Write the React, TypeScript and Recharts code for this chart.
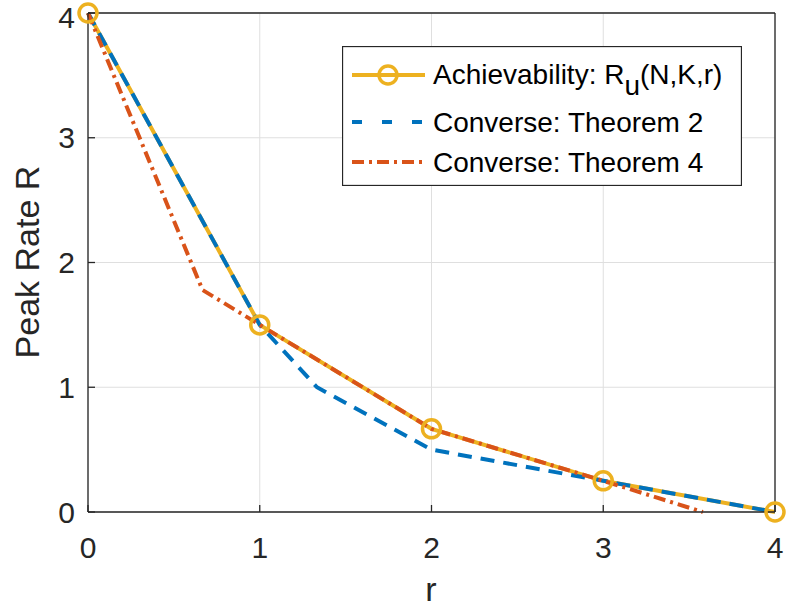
import React from 'react';
import { LineChart, Line, XAxis, YAxis, CartesianGrid, Legend } from 'recharts';

const COLORS = {
  achiev: '#EDB120',
  thm2: '#0072BD',
  thm4: '#D95319',
  axis: '#262626',
  grid: '#dfdfdf',
};

// r values and rates
const achR = [0, 1, 2, 3, 4];
const achRate = [4, 1.5, 0.6667, 0.25, 0];

const thm2R = [0, 1, 1.3333, 2, 3, 4];
const thm2Rate = [4, 1.5, 1.0, 0.5, 0.25, 0];

const thm4R = [0, 0.6667, 1, 2, 3, 3.58];
const thm4Rate = [4, 1.78, 1.5, 0.6667, 0.25, 0];

const xTicks = [0, 1, 2, 3, 4];
const yTicks = [0, 1, 2, 3, 4];

const zip = (xs: number[], ys: number[]) => xs.map((r, i) => ({ r, rate: ys[i] }));

const achData = zip(achR, achRate);
const thm2Data = zip(thm2R, thm2Rate);
const thm4Data = zip(thm4R, thm4Rate);

const FONT = '"Liberation Sans", Arial, Helvetica, sans-serif';
const LW = 4;

const LegendBox = () => {
  const rows = [
    { y: 29, base: 38, color: COLORS.achiev, dash: undefined, marker: true },
    { y: 76, base: 86, color: COLORS.thm2, dash: '10 20', marker: false },
    { y: 116, base: 126, color: COLORS.thm4, dash: '12 5 3 5', marker: false },
  ];
  return (
    <svg width={400} height={140} style={{ display: 'block' }}>
      <rect x={0.5} y={0.5} width={399} height={139} fill="#fff" stroke={COLORS.axis} strokeWidth={1.3} />
      {rows.map((row, i) => (
        <g key={i}>
          <line x1={10} x2={83} y1={row.y} y2={row.y} stroke={row.color} strokeWidth={LW} strokeDasharray={row.dash} />
          {row.marker && <circle cx={46} cy={row.y} r={9} fill="none" stroke={row.color} strokeWidth={3.5} />}
        </g>
      ))}
      <text x={91} y={rows[0].base} fontSize={28} fontFamily={FONT} fill="#000">
        Achievability: R<tspan dy={11}>u</tspan><tspan dy={-11}>(N,K,r)</tspan>
      </text>
      <text x={91} y={rows[1].base} fontSize={28} fontFamily={FONT} fill="#000">Converse: Theorem 2</text>
      <text x={91} y={rows[2].base} fontSize={28} fontFamily={FONT} fill="#000">Converse: Theorem 4</text>
    </svg>
  );
};

const tickStyle = { fill: COLORS.axis, fontSize: 30, fontFamily: FONT };

export default function App() {
  return (
    <div style={{ position: 'absolute', left: 0, top: 0, width: 789, height: 609, background: '#fff' }}>
      <LineChart width={789} height={609} margin={{ top: 12, right: 13, left: 0, bottom: 0 }}>
        <CartesianGrid stroke={COLORS.grid} strokeWidth={1} />
        <XAxis
          dataKey="r"
          type="number"
          domain={[0, 4]}
          ticks={xTicks}
          height={97}
          tickSize={-7}
          tickMargin={32}
          tick={tickStyle}
          stroke={COLORS.axis}
          strokeWidth={1.3}
          label={{
            content: () => (
              <text x={431} y={601} textAnchor="middle" fontSize={34} fontFamily={FONT} fill={COLORS.axis}>r</text>
            ),
          }}
        />
        <XAxis
          xAxisId="top"
          orientation="top"
          dataKey="r"
          type="number"
          domain={[0, 4]}
          ticks={xTicks}
          height={1}
          tickSize={-7}
          tickFormatter={() => ''}
          stroke={COLORS.axis}
          strokeWidth={1.3}
        />
        <YAxis
          type="number"
          domain={[0, 4]}
          ticks={yTicks}
          width={88}
          tickSize={-7}
          tickMargin={20}
          tick={tickStyle}
          stroke={COLORS.axis}
          strokeWidth={1.3}
          label={{
            content: () => (
              <text
                x={39}
                y={262}
                transform="rotate(-90 39 262)"
                textAnchor="middle"
                fontSize={34}
                fontFamily={FONT}
                fill={COLORS.axis}
              >
                Peak Rate R
              </text>
            ),
          }}
        />
        <YAxis
          yAxisId="right"
          orientation="right"
          type="number"
          domain={[0, 4]}
          ticks={yTicks}
          width={1}
          tickSize={-7}
          tickFormatter={() => ''}
          stroke={COLORS.axis}
          strokeWidth={1.3}
        />
        <Line
          data={achData}
          dataKey="rate"
          name="Achievability"
          stroke={COLORS.achiev}
          strokeWidth={LW}
          dot={{ r: 9, stroke: COLORS.achiev, strokeWidth: 3.5, fill: 'none', clipDot: false }}
          isAnimationActive={false}
        />
        <Line
          data={thm2Data}
          dataKey="rate"
          name="Theorem 2"
          stroke={COLORS.thm2}
          strokeWidth={LW}
          strokeDasharray="14 9"
          dot={false}
          isAnimationActive={false}
        />
        <Line
          data={thm4Data}
          dataKey="rate"
          name="Theorem 4"
          stroke={COLORS.thm4}
          strokeWidth={LW}
          strokeDasharray="12 5 3 5"
          dot={false}
          isAnimationActive={false}
        />
        <Legend
          layout="vertical"
          align="center"
          verticalAlign="middle"
          wrapperStyle={{ position: 'absolute', left: 342, top: 46, width: 400, height: 140 }}
          content={() => <LegendBox />}
        />
      </LineChart>
    </div>
  );
}
